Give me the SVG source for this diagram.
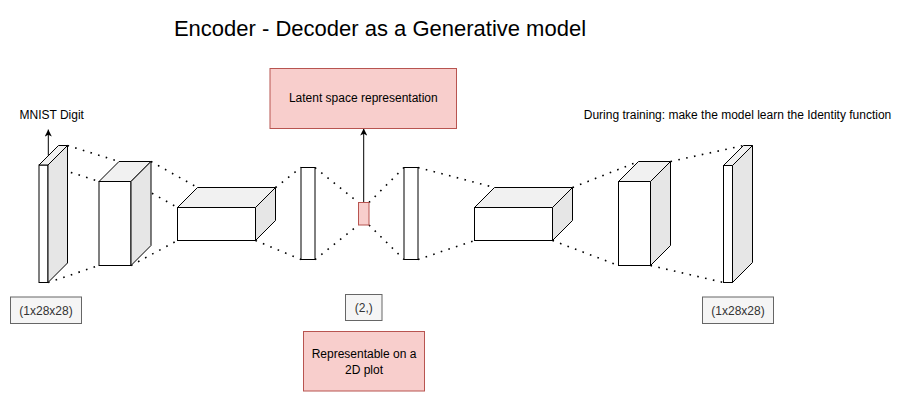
<svg xmlns="http://www.w3.org/2000/svg" width="912" height="402" viewBox="0 0 912 402">
<defs>
<style>
text{font-family:"Liberation Sans",Arial,Helvetica,sans-serif;font-size:12px;fill:#000;text-anchor:middle}
.title{font-size:22px}
.front{fill:#fff;stroke:#000;stroke-width:1}
.top{fill:#f1f1f1;stroke:#000;stroke-width:1;stroke-linejoin:round}
.side{fill:#e6e6e6;stroke:#000;stroke-width:1;stroke-linejoin:round}
.dot{stroke:#000;stroke-width:1.6;stroke-dasharray:1.6 6.4;fill:none}
.arrow{stroke:#000;stroke-width:1;fill:none}
.pink{fill:#f8cecc;stroke:#b85450;stroke-width:1}
.gray{fill:#f5f5f5;stroke:#666;stroke-width:1}
.gt{fill:#333}
</style>
<marker id="ah" viewBox="0 0 10 10" refX="10" refY="5" markerWidth="7" markerHeight="7" markerUnits="userSpaceOnUse" orient="auto">
<path d="M0,0 L10,5 L0,10 L2.5,5 Z" fill="#000"/>
</marker>
</defs>
<rect width="912" height="402" fill="#fff"/>
<text class="title" x="380" y="36">Encoder - Decoder as a Generative model</text>

<g id="connectors">
<line class="dot" x1="67.5" y1="145.5" x2="119" y2="161.5"/>
<line class="dot" x1="48" y1="165" x2="99" y2="181.5"/>
<line class="dot" x1="48" y1="282.5" x2="99" y2="265.5"/>
<line class="dot" x1="151" y1="161.5" x2="197.5" y2="187.5"/>
<line class="dot" x1="131" y1="181.5" x2="177.5" y2="207.5"/>
<line class="dot" x1="131" y1="265.5" x2="177.5" y2="240.5"/>
<line class="dot" x1="275.5" y1="187.5" x2="301" y2="167.5"/>
<line class="dot" x1="255.5" y1="240.5" x2="301" y2="259.5"/>
<line class="dot" x1="315" y1="167.5" x2="358.5" y2="202.5"/>
<line class="dot" x1="315" y1="259.5" x2="358.5" y2="225"/>
<line class="dot" x1="369" y1="202.5" x2="404" y2="167.5"/>
<line class="dot" x1="369" y1="225" x2="404" y2="259.5"/>
<line class="dot" x1="418" y1="167.5" x2="494.5" y2="187.5"/>
<line class="dot" x1="418" y1="259.5" x2="474.5" y2="240.5"/>
<line class="dot" x1="572.5" y1="187.5" x2="638.5" y2="161.5"/>
<line class="dot" x1="552.5" y1="240.5" x2="618.5" y2="265.5"/>
<line class="dot" x1="670.5" y1="161.5" x2="743.5" y2="145.5"/>
<line class="dot" x1="650.5" y1="265.5" x2="723.5" y2="282.5"/>
<line class="arrow" x1="48.3" y1="155.5" x2="48.3" y2="129.5" marker-end="url(#ah)"/>
<line class="arrow" x1="363.7" y1="202.5" x2="363.7" y2="128.5" marker-end="url(#ah)"/>
</g>

<g id="input-slab">
<rect class="front" x="39" y="165" width="9" height="117.5"/>
<polygon class="top" points="39,165 58.5,145.5 67.5,145.5 48,165"/>
<polygon class="side" points="48,165 67.5,145.5 67.5,263 48,282.5"/>
</g>
<g id="enc-block1">
<rect class="front" x="99" y="181.5" width="32" height="84"/>
<polygon class="top" points="99,181.5 119,161.5 151,161.5 131,181.5"/>
<polygon class="side" points="131,181.5 151,161.5 151,245.5 131,265.5"/>
</g>
<g id="enc-block2">
<rect class="front" x="177.5" y="207.5" width="78" height="33"/>
<polygon class="top" points="177.5,207.5 197.5,187.5 275.5,187.5 255.5,207.5"/>
<polygon class="side" points="255.5,207.5 275.5,187.5 275.5,220.5 255.5,240.5"/>
</g>
<g id="enc-flat">
<rect class="front" x="301" y="167.5" width="14" height="92"/>
</g>
<g id="latent">
<rect class="pink" x="358.5" y="202.5" width="10.5" height="22.5"/>
</g>
<g id="dec-flat">
<rect class="front" x="404" y="167.5" width="14" height="92"/>
</g>
<g id="dec-block1">
<rect class="front" x="474.5" y="207.5" width="78" height="33"/>
<polygon class="top" points="474.5,207.5 494.5,187.5 572.5,187.5 552.5,207.5"/>
<polygon class="side" points="552.5,207.5 572.5,187.5 572.5,220.5 552.5,240.5"/>
</g>
<g id="dec-block2">
<rect class="front" x="618.5" y="181.5" width="32" height="84"/>
<polygon class="top" points="618.5,181.5 638.5,161.5 670.5,161.5 650.5,181.5"/>
<polygon class="side" points="650.5,181.5 670.5,161.5 670.5,245.5 650.5,265.5"/>
</g>
<g id="output-slab">
<rect class="front" x="723.5" y="165.5" width="9" height="117"/>
<polygon class="top" points="723.5,165.5 743.5,145.5 752.5,145.5 732.5,165.5"/>
<polygon class="side" points="732.5,165.5 752.5,145.5 752.5,262.5 732.5,282.5"/>
</g>

<g id="latent-label">
<rect class="pink" x="270" y="68.5" width="186.5" height="60"/>
<text x="363.3" y="102">Latent space representation</text>
</g>
<g id="plot-label">
<rect class="pink" x="303.5" y="331.5" width="121" height="59.5"/>
<text x="364" y="358">Representable on a</text>
<text x="364" y="373.5">2D plot</text>
</g>
<g id="shape-latent">
<rect class="gray" x="345.5" y="294.5" width="36.5" height="26"/>
<text class="gt" x="363.8" y="311.5">(2,)</text>
</g>
<g id="shape-input">
<rect class="gray" x="10.5" y="297" width="71" height="26.5"/>
<text class="gt" x="46" y="314.5">(1x28x28)</text>
</g>
<g id="shape-output">
<rect class="gray" x="702.5" y="297" width="71" height="26.5"/>
<text class="gt" x="738" y="314.5">(1x28x28)</text>
</g>
<g id="mnist-label">
<text x="51.7" y="119">MNIST Digit</text>
</g>
<g id="training-label">
<text x="737.5" y="119">During training: make the model learn the Identity function</text>
</g>
</svg>
